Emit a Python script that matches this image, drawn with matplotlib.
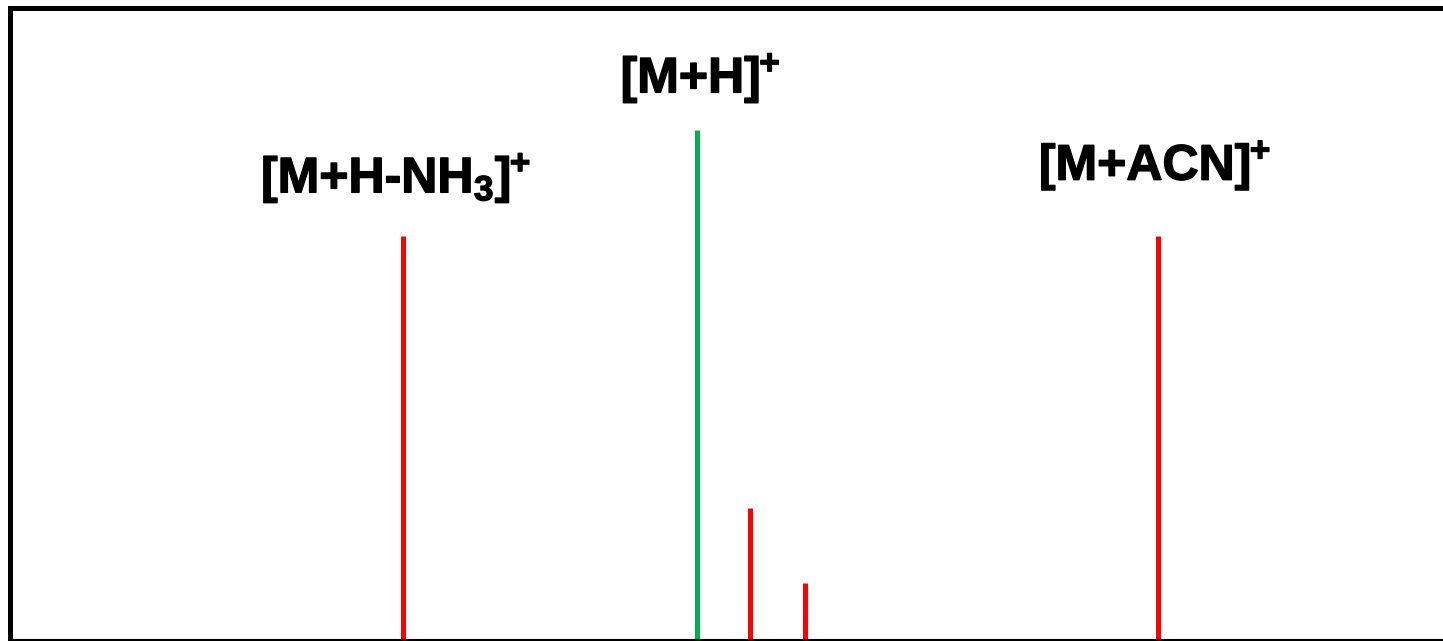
import matplotlib.pyplot as plt
import matplotlib.patheffects as pe

# peak positions (arbitrary m/z scale) and relative intensities
peak_pos = [27.45, 47.96, 51.66, 55.5, 80.1]
peak_int = [63.9, 80.6, 20.9, 9.0, 63.9]
peak_colors = ["#FF0000", "#00B050", "#FF0000", "#FF0000", "#FF0000"]

label_text = ["[M+H-NH$_3$]$\\hspace{-0.04}^{+}$",
              "[M+H]$\\hspace{-0.04}^{+}$",
              "[M+ACN]$\\hspace{-0.04}^{+}$"]
label_x = [26.96, 48.2, 79.9]
label_y = [70.7, 86.5, 72.7]

plt.rcParams["font.family"] = ["Liberation Sans", "DejaVu Sans"]
plt.rcParams["mathtext.fontset"] = "custom"
plt.rcParams["mathtext.bf"] = "Liberation Sans:bold"
plt.rcParams["mathtext.rm"] = "Liberation Sans:bold"
plt.rcParams["mathtext.default"] = "bf"

fig = plt.figure(figsize=(14.43, 6.41), dpi=100)
ax = fig.add_axes([9.5 / 1443, 1.0 / 641, 1 - 9.5 / 1443, (640 - 7.5) / 641])

ax.vlines(peak_pos, 0, peak_int, colors=peak_colors, linewidth=3.6, capstyle="butt")

for txt, x, y in zip(label_text, label_x, label_y):
    ax.text(x, y, txt, ha="center", va="baseline", fontsize=36, fontweight="bold",
            path_effects=[pe.withStroke(linewidth=1.0, foreground="black")])

ax.set_xlim(0, 100)
ax.set_ylim(0, 100)
ax.set_xticks([])
ax.set_yticks([])
ax.spines["right"].set_visible(False)
ax.spines["left"].set_linewidth(3.6)
ax.spines["top"].set_linewidth(3.6)
ax.spines["bottom"].set_linewidth(1.5)

fig.savefig("out.png", dpi=100)
